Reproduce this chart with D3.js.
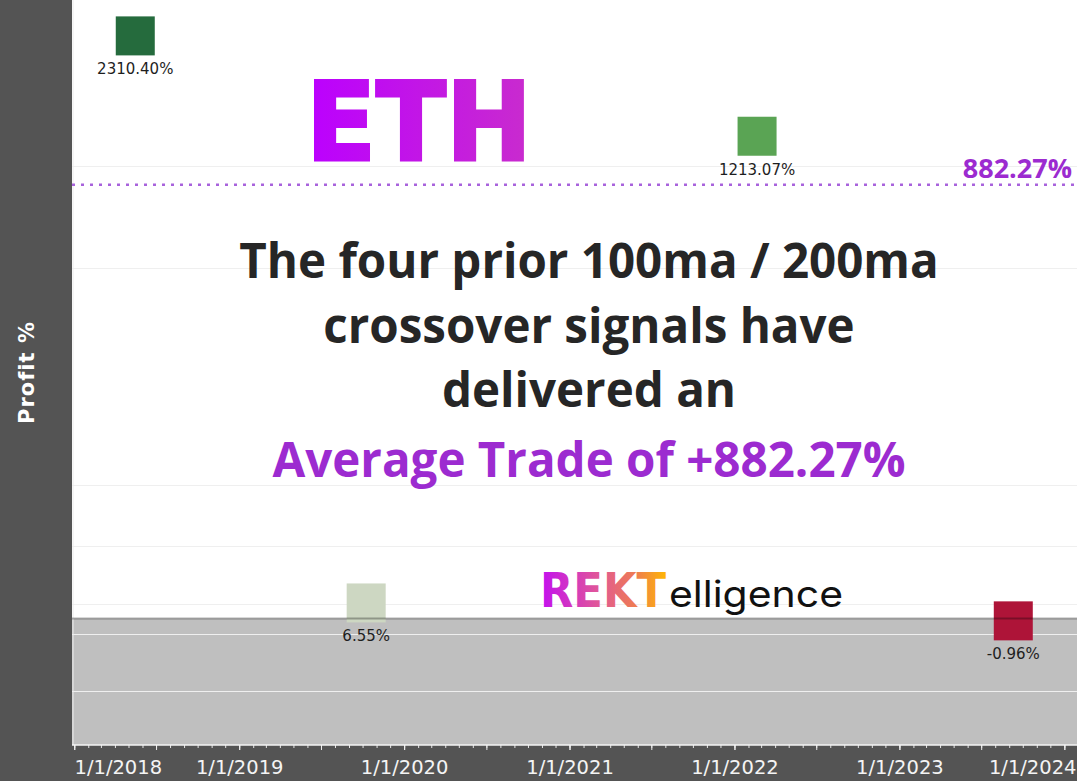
<!DOCTYPE html>
<html>
<head>
<meta charset="utf-8">
<script src="https://cdn.jsdelivr.net/npm/d3@7"></script>
<style>
  html, body { margin: 0; padding: 0; background: #ffffff; }
  svg { display: block; }
</style>
</head>
<body>
<svg id="chart" width="1077" height="781"></svg>
<script>
// ---------- data ----------
const tradeDates   = ["2018-05-16", "2019-10-09", "2022-02-20", "2023-09-10"];
const tradeProfit  = [2310.40, 6.55, 1213.07, -0.96];
const tradeLabels  = ["2310.40%", "6.55%", "1213.07%", "-0.96%"];
const averageTrade = 882.27;
const averageLabel = "882.27%";
const yearTicks    = ["2018-01-01", "2019-01-01", "2020-01-01", "2021-01-01", "2022-01-01", "2023-01-01", "2024-01-01"];
const gridValues   = [-37, -6.5, 6, 37, 83, 500, 1000];
const yDomain      = [-77, 2900];
const xDomain      = ["2017-12-27", "2024-01-29"];
const title        = "ETH";
const headline     = ["The four prior 100ma / 200ma", "crossover signals have", "delivered an"];
const highlight    = "Average Trade of +882.27%";
const yTitle       = "Profit %";

// ---------- setup ----------
const W = 1077, H = 781;
const plot = { left: 72, right: 1077, top: 0, bottom: 745 };
const parse = d3.utcParse("%Y-%m-%d");
const svg = d3.select("#chart");

const x = d3.scaleUtc().domain(xDomain.map(parse)).range([plot.left, plot.right]);
const y = d3.scaleSymlog().constant(65).domain(yDomain).range([plot.bottom, plot.top]);
const color = d3.scaleOrdinal().domain(tradeLabels).range(["#256b3d", "#cdd7c2", "#5aa454", "#ae1438"]);

const defs = svg.append("defs");
const ethGrad = defs.append("linearGradient").attr("id", "ethGrad")
  .attr("gradientUnits", "userSpaceOnUse").attr("x1", 307).attr("x2", 532).attr("y1", 0).attr("y2", 0);
ethGrad.append("stop").attr("offset", "0%").attr("stop-color", "#bb00ff");
ethGrad.append("stop").attr("offset", "100%").attr("stop-color", "#c92ccd");
const rektGrad = defs.append("linearGradient").attr("id", "rektGrad")
  .attr("gradientUnits", "userSpaceOnUse").attr("x1", 540).attr("x2", 667).attr("y1", 0).attr("y2", 0);
rektGrad.append("stop").attr("offset", "0%").attr("stop-color", "#c20ff0");
rektGrad.append("stop").attr("offset", "45%").attr("stop-color", "#e0569a");
rektGrad.append("stop").attr("offset", "75%").attr("stop-color", "#ee7c52");
rektGrad.append("stop").attr("offset", "100%").attr("stop-color", "#ffb800");

// background panels
svg.append("rect").attr("x", 0).attr("y", 0).attr("width", W).attr("height", H).attr("fill", "#545454");
svg.append("rect").attr("x", plot.left).attr("y", plot.top)
  .attr("width", plot.right - plot.left).attr("height", plot.bottom - plot.top).attr("fill", "#ffffff");

// negative band
svg.append("rect").attr("x", plot.left).attr("y", y(0))
  .attr("width", plot.right - plot.left).attr("height", plot.bottom - y(0)).attr("fill", "#bfbfbf");

// gridlines
svg.append("g").selectAll("line").data(gridValues).join("line")
  .attr("x1", plot.left).attr("x2", plot.right)
  .attr("y1", d => Math.round(y(d)) + 0.5).attr("y2", d => Math.round(y(d)) + 0.5)
  .attr("stroke", "#efefef").attr("stroke-width", 1.2);

// left border
svg.append("line").attr("x1", plot.left + 1).attr("x2", plot.left + 1)
  .attr("y1", plot.top).attr("y2", plot.bottom).attr("stroke", "#ececec").attr("stroke-width", 1);

// title ETH
svg.append("text").attr("x", 306).attr("y", 160)
  .attr("font-family", "DejaVu Sans").attr("font-weight", "bold").attr("font-size", 108)
  .attr("textLength", 226).attr("lengthAdjust", "spacingAndGlyphs")
  .attr("fill", "url(#ethGrad)").attr("stroke", "url(#ethGrad)").attr("stroke-width", 3)
  .attr("stroke-linejoin", "miter").text(title);

// headline text
const cx = 589;
svg.append("g").selectAll("text").data(headline).join("text")
  .attr("x", cx).attr("y", (d, i) => 278 + i * 64.5)
  .attr("text-anchor", "middle")
  .attr("font-family", "Open Sans").attr("font-weight", 700).attr("font-size", 47.5)
  .attr("fill", "#262626").text(d => d);
svg.append("text").attr("x", cx).attr("y", 477).attr("text-anchor", "middle")
  .attr("font-family", "Open Sans").attr("font-weight", 700).attr("font-size", 47.5)
  .attr("fill", "#9c2bd0").text(highlight);

// logo
svg.append("text").attr("x", 540).attr("y", 607)
  .attr("font-family", "DejaVu Sans").attr("font-weight", "bold").attr("font-size", 48)
  .attr("textLength", 126).attr("lengthAdjust", "spacingAndGlyphs")
  .attr("fill", "url(#rektGrad)").text("REKT");
svg.append("text").attr("x", 669).attr("y", 607)
  .attr("font-family", "Inter").attr("font-weight", 400).attr("font-size", 37)
  .attr("textLength", 174).attr("lengthAdjust", "spacingAndGlyphs")
  .attr("fill", "#111111").text("elligence");

// average reference line
svg.append("line").attr("x1", plot.left).attr("x2", plot.right)
  .attr("y1", y(averageTrade)).attr("y2", y(averageTrade))
  .attr("stroke", "#a862dc").attr("stroke-width", 2.5).attr("stroke-dasharray", "3,6");
svg.append("text").attr("x", 1072).attr("y", y(averageTrade) - 7).attr("text-anchor", "end")
  .attr("font-family", "Open Sans").attr("font-weight", 700).attr("font-size", 27)
  .attr("fill", "#9c2bd0").text(averageLabel);

// squares
const S = 39;
const trades = tradeDates.map((d, i) => ({ date: parse(d), value: tradeProfit[i], label: tradeLabels[i] }));
svg.append("g").selectAll("rect").data(trades).join("rect")
  .attr("x", d => x(d.date) - S / 2).attr("y", d => y(d.value) - S / 2)
  .attr("width", S).attr("height", S).attr("fill", d => color(d.label));
svg.append("g").selectAll("text").data(trades).join("text")
  .attr("x", d => x(d.date)).attr("y", d => y(d.value) + S / 2 + 19)
  .attr("text-anchor", "middle").attr("font-family", "DejaVu Sans").attr("font-size", 15)
  .attr("fill", "#1e1e1e").text(d => d.label);

// zero line
svg.append("line").attr("x1", plot.left).attr("x2", plot.right)
  .attr("y1", y(0)).attr("y2", y(0)).attr("stroke", "#000000").attr("stroke-opacity", 0.3).attr("stroke-width", 2);

// x axis
const axisG = svg.append("g").attr("transform", `translate(0,${plot.bottom})`);
const monthly = d3.utcMonth.range(x.domain()[0], x.domain()[1]);
axisG.append("g").call(d3.axisBottom(x).tickValues(monthly).tickSize(3).tickFormat(""))
  .call(g => g.select(".domain").remove())
  .call(g => g.selectAll("line").attr("stroke", "#e6e6e6"));
const halfYears = monthly.filter(d => d.getUTCMonth() % 6 === 0);
axisG.append("g").call(d3.axisBottom(x).tickValues(halfYears).tickSize(5).tickFormat(""))
  .call(g => g.select(".domain").remove())
  .call(g => g.selectAll("line").attr("stroke", "#eeeeee"));
const yearAxis = axisG.append("g").call(
  d3.axisBottom(x).tickValues(yearTicks.map(parse)).tickSize(5).tickPadding(10)
    .tickFormat(d3.utcFormat("%-m/%-d/%Y")));
yearAxis.select(".domain").remove();
yearAxis.selectAll("line").attr("stroke", "#eeeeee");
yearAxis.selectAll("text").attr("font-family", "DejaVu Sans").attr("font-size", 19.5).attr("fill", "#f4f4f4");
const labels = yearAxis.selectAll(".tick text").nodes();
const firstX = x(parse(yearTicks[0]));
const lastX = x(parse(yearTicks[yearTicks.length - 1]));
d3.select(labels[0]).attr("text-anchor", "start").attr("x", plot.left + 2 - firstX);
d3.select(labels[labels.length - 1]).attr("text-anchor", "end").attr("x", plot.right - 1 - lastX);
axisG.append("line").attr("x1", plot.left).attr("x2", plot.right).attr("y1", 0).attr("y2", 0)
  .attr("stroke", "#f4f4f4").attr("stroke-width", 1.5);

// y axis title
svg.append("text").attr("transform", `translate(27,${(plot.top + plot.bottom) / 2}) rotate(-90)`)
  .attr("text-anchor", "middle").attr("dominant-baseline", "central")
  .attr("font-family", "DejaVu Sans").attr("font-weight", "bold").attr("font-size", 21)
  .attr("letter-spacing", 1).attr("fill", "#ffffff").text(yTitle);
</script>
</body>
</html>
